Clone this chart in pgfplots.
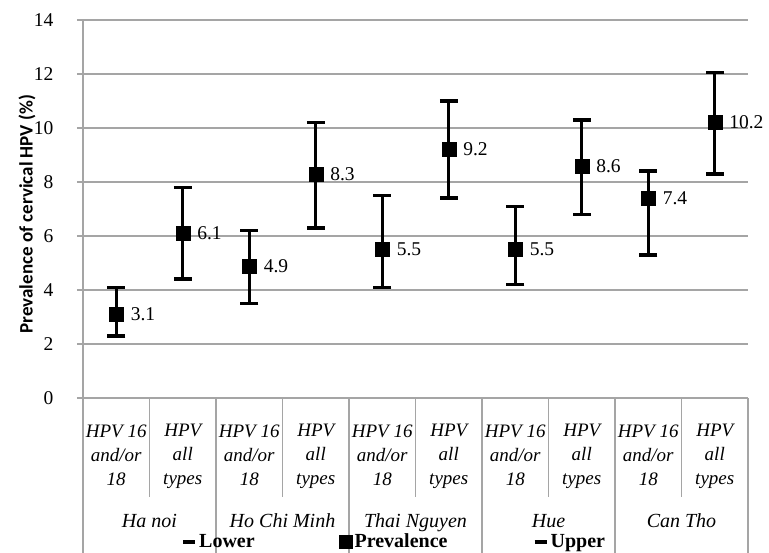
\documentclass[border=0pt]{standalone}
\usepackage{fontspec}
\setmainfont{Liberation Serif}
\newfontfamily\calibri{Carlito}
\usepackage{pgfplots}
\usepackage{pgfplotstable}
\pgfplotsset{compat=1.18}
\definecolor{gridgray}{RGB}{165,165,165}
\pgfplotstableread{
x y lo up
0 3.1 2.3 4.1
1 6.1 4.4 7.8
2 4.9 3.5 6.2
3 8.3 6.3 10.2
4 5.5 4.1 7.5
5 9.2 7.4 11.0
6 5.5 4.2 7.1
7 8.6 6.8 10.3
8 7.4 5.3 8.4
9 10.2 8.3 12.05
}\datatable
\begin{document}
\begin{tikzpicture}
\begin{axis}[
  name=ax,
  scale only axis, width=665pt, height=378pt,
  xmin=-0.5, xmax=9.5, ymin=0, ymax=14,
  clip=false,
  axis lines*=left,
  axis line style={gridgray, line width=1.2pt},
  ymajorgrids, grid style={gridgray, line width=1.2pt},
  ytick={0,2,...,14},
  xtick={0,...,9},
  xticklabels={{HPV 16\\and/or\\18},{HPV\\all\\types},{HPV 16\\and/or\\18},{HPV\\all\\types},{HPV 16\\and/or\\18},{HPV\\all\\types},{HPV 16\\and/or\\18},{HPV\\all\\types},{HPV 16\\and/or\\18},{HPV\\all\\types}},
  xticklabel style={align=center, font=\fontsize{19}{24}\selectfont\itshape, yshift=-17pt},
  major x tick style={draw=none},
  tick align=outside, major tick length=6pt,
  major y tick style={gridgray, line width=1.2pt},
  yticklabel style={font=\fontsize{19.5}{23}\selectfont, xshift=-20pt},
  /pgf/number format/assume math mode=true,
  ylabel={\calibri\bfseries Prevalence of cervical HPV (\%)},
  every axis y label/.style={at={([xshift=-56pt,yshift=-5pt]axis description cs:0,0.5)}, rotate=90, anchor=center, font=\fontsize{19}{22}\selectfont},
  legend columns=3,
  legend style={draw=none, fill=none, at={(0,0)}, anchor=west, xshift=98pt, yshift=-143.5pt,
    font=\fontsize{20}{22}\selectfont\bfseries, inner sep=0pt,
    /tikz/every even column/.append style={column sep=0pt}},
]
\addlegendimage{legend image code/.code={\draw[black, line width=4pt] (0pt,0pt) -- (12pt,0pt);}}
\addlegendentry{\makebox[138pt][l]{Lower}}
\addlegendimage{legend image code/.code={\fill[black] (0pt,-6.5pt) rectangle (13pt,6.5pt);}}
\addlegendentry{\makebox[176pt][l]{Prevalence}}
\addlegendimage{legend image code/.code={\draw[black, line width=4pt] (0pt,0pt) -- (12pt,0pt);}}
\addlegendentry{Upper}

\addplot[only marks, mark=square*, mark size=7pt, black, forget plot,
  point meta=explicit,
  nodes near coords, nodes near coords style={anchor=west, xshift=11pt, font=\fontsize{19.5}{23}\selectfont, /pgf/number format/fixed, /pgf/number format/precision=1, /pgf/number format/fixed zerofill},
  error bars/.cd, y dir=both, y explicit,
  error bar style={line width=3pt, black},
  error mark options={rotate=90, black, mark size=9pt, line width=3.5pt}]
  table[x=x, y=y, meta=y, y error plus expr=\thisrow{up}-\thisrow{y}, y error minus expr=\thisrow{y}-\thisrow{lo}] {\datatable};

\pgfplotsinvokeforeach{0.5,2.5,4.5,6.5,8.5}{
  \draw[gridgray, line width=1.2pt] (axis cs:#1,0) -- ([yshift=-99pt]axis cs:#1,0);
}
\pgfplotsinvokeforeach{-0.5,1.5,3.5,5.5,7.5,9.5}{
  \draw[gridgray, line width=1.2pt] (axis cs:#1,0) -- ([yshift=-170pt]axis cs:#1,0);
}
\node[anchor=base, font=\fontsize{20}{23}\selectfont\itshape] at ([yshift=-129.5pt]axis cs:0.5,0) {Ha noi};
\node[anchor=base, font=\fontsize{20}{23}\selectfont\itshape] at ([yshift=-129.5pt]axis cs:2.5,0) {Ho Chi Minh};
\node[anchor=base, font=\fontsize{20}{23}\selectfont\itshape] at ([yshift=-129.5pt]axis cs:4.5,0) {Thai Nguyen};
\node[anchor=base, font=\fontsize{20}{23}\selectfont\itshape] at ([yshift=-129.5pt]axis cs:6.5,0) {Hue};
\node[anchor=base, font=\fontsize{20}{23}\selectfont\itshape] at ([yshift=-129.5pt]axis cs:8.5,0) {Can Tho};
\end{axis}
\pgfresetboundingbox
\path[use as bounding box] ([shift={(-83pt,-154pt)}]ax.south west) rectangle ([shift={(21pt,20pt)}]ax.north east);
\end{tikzpicture}
\end{document}
